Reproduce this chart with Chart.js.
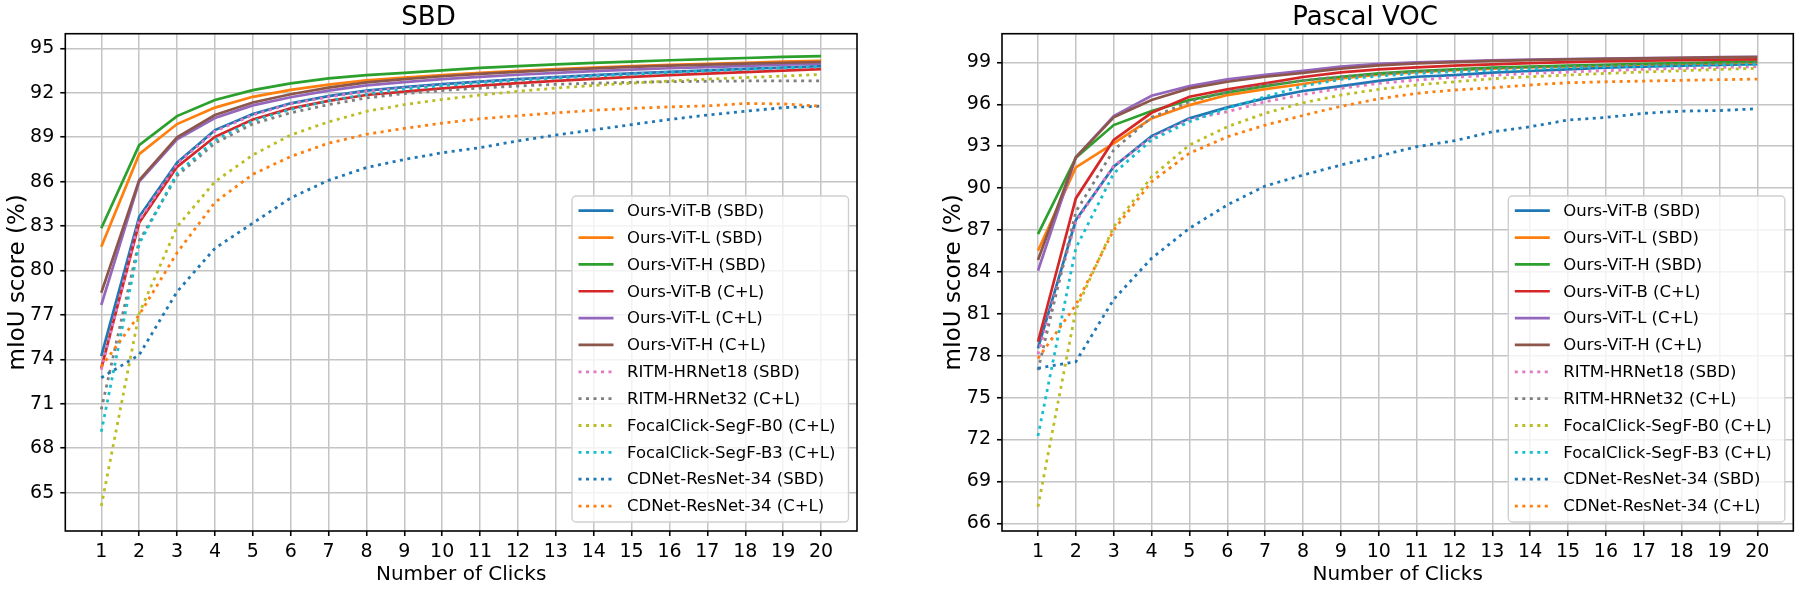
<!DOCTYPE html>
<html>
<head>
<meta charset="utf-8">
<script src="https://cdn.jsdelivr.net/npm/chart.js@4.4.1/dist/chart.umd.min.js"></script>
<style>
    html, body { margin: 0; padding: 0; background: #fff; }
    #wrap { position: relative; width: 1800px; height: 589px; }
    .pane { position: absolute; top: 0; width: 900px; height: 589px; }
</style>
</head>
<body>
<div id="wrap">
    <div class="pane" style="left:0"><canvas id="chart_sbd" width="900" height="589"></canvas></div>
    <div class="pane" style="left:900px"><canvas id="chart_voc" width="900" height="589"></canvas></div>
</div>
<script>
var clicks = [1, 2, 3, 4, 5, 6, 7, 8, 9, 10, 11, 12, 13, 14, 15, 16, 17, 18, 19, 20];

var labels = [
    'Ours-ViT-B (SBD)', 'Ours-ViT-L (SBD)', 'Ours-ViT-H (SBD)',
    'Ours-ViT-B (C+L)', 'Ours-ViT-L (C+L)', 'Ours-ViT-H (C+L)',
    'RITM-HRNet18 (SBD)', 'RITM-HRNet32 (C+L)',
    'FocalClick-SegF-B0 (C+L)', 'FocalClick-SegF-B3 (C+L)',
    'CDNet-ResNet-34 (SBD)', 'CDNet-ResNet-34 (C+L)'
];
var colors = ['#1f77b4', '#ff7f0e', '#2ca02c', '#d62728', '#9467bd', '#8c564b',
              '#e377c2', '#7f7f7f', '#bcbd22', '#17becf', '#1f77b4', '#ff7f0e'];
var dotted = [false, false, false, false, false, false, true, true, true, true, true, true];

// SBD
var sbd_vit_b    = [74.22, 83.63, 87.28, 89.48, 90.56, 91.29, 91.78, 92.15, 92.38, 92.58, 92.76, 92.92, 93.06, 93.19, 93.31, 93.42, 93.52, 93.62, 93.71, 93.80];
var sbd_vit_l    = [81.60, 87.86, 89.89, 91.00, 91.73, 92.20, 92.55, 92.85, 93.03, 93.20, 93.35, 93.48, 93.60, 93.70, 93.80, 93.88, 93.96, 94.03, 94.10, 94.16];
var sbd_vit_h    = [82.85, 88.47, 90.43, 91.51, 92.18, 92.64, 92.98, 93.20, 93.35, 93.52, 93.68, 93.80, 93.92, 94.02, 94.11, 94.20, 94.28, 94.35, 94.42, 94.48];
var sbd_cl_vit_b = [73.39, 83.22, 87.00, 89.03, 90.20, 90.95, 91.46, 91.85, 92.08, 92.30, 92.48, 92.65, 92.80, 92.94, 93.07, 93.20, 93.30, 93.40, 93.50, 93.60];
var sbd_cl_vit_l = [77.67, 86.00, 88.86, 90.30, 91.15, 91.70, 92.15, 92.50, 92.72, 92.92, 93.08, 93.22, 93.35, 93.46, 93.56, 93.66, 93.74, 93.82, 93.90, 93.97];
var sbd_cl_vit_h = [78.50, 86.10, 88.99, 90.50, 91.35, 91.90, 92.35, 92.70, 92.92, 93.12, 93.28, 93.42, 93.54, 93.65, 93.75, 93.83, 93.90, 93.97, 94.03, 94.08];
var sbd_ritm18   = [73.30, 83.40, 87.20, 89.40, 90.50, 91.25, 91.72, 92.10, 92.33, 92.53, 92.72, 92.88, 93.02, 93.15, 93.27, 93.38, 93.48, 93.58, 93.67, 93.76];
var sbd_ritm32   = [70.62, 82.00, 86.40, 88.60, 89.90, 90.65, 91.20, 91.65, 91.95, 92.15, 92.32, 92.46, 92.57, 92.65, 92.71, 92.75, 92.78, 92.80, 92.80, 92.81];
var sbd_fc_b0    = [64.10, 77.10, 82.95, 86.00, 87.80, 89.15, 90.04, 90.75, 91.20, 91.55, 91.85, 92.10, 92.32, 92.50, 92.65, 92.80, 92.92, 93.03, 93.13, 93.24];
var sbd_fc_b3    = [69.11, 81.80, 86.56, 88.80, 90.11, 90.88, 91.45, 91.90, 92.25, 92.48, 92.68, 92.84, 92.99, 93.12, 93.25, 93.37, 93.48, 93.58, 93.68, 93.77];
var sbd_cdnet    = [72.76, 74.30, 78.57, 81.50, 83.20, 84.90, 86.09, 86.95, 87.50, 87.95, 88.30, 88.75, 89.15, 89.50, 89.85, 90.20, 90.50, 90.75, 91.00, 91.10];
var sbd_cl_cdnet = [73.50, 77.00, 81.20, 84.60, 86.50, 87.70, 88.60, 89.20, 89.60, 89.95, 90.25, 90.45, 90.65, 90.82, 90.95, 91.05, 91.12, 91.28, 91.25, 91.10];

// Pascal VOC
var voc_vit_b    = [78.53, 87.71, 91.53, 93.72, 94.99, 95.78, 96.42, 96.95, 97.30, 97.68, 97.97, 98.09, 98.26, 98.38, 98.50, 98.62, 98.69, 98.76, 98.81, 98.88];
var voc_vit_l    = [85.51, 91.48, 93.20, 94.99, 95.94, 96.66, 97.08, 97.45, 97.85, 98.12, 98.30, 98.44, 98.55, 98.64, 98.71, 98.78, 98.85, 98.90, 98.95, 98.99];
var voc_vit_h    = [86.71, 92.17, 94.51, 95.51, 96.30, 96.85, 97.30, 97.70, 97.97, 98.21, 98.38, 98.50, 98.62, 98.69, 98.76, 98.83, 98.90, 98.95, 99.00, 99.05];
var voc_cl_vit_b = [79.00, 89.26, 93.44, 95.39, 96.54, 97.07, 97.50, 97.95, 98.28, 98.50, 98.64, 98.76, 98.86, 98.95, 99.02, 99.09, 99.12, 99.16, 99.19, 99.21];
var voc_cl_vit_l = [84.08, 92.20, 95.16, 96.61, 97.30, 97.78, 98.10, 98.40, 98.69, 98.90, 99.00, 99.07, 99.14, 99.19, 99.24, 99.26, 99.30, 99.33, 99.37, 99.40];
var voc_cl_vit_h = [84.85, 92.20, 95.06, 96.30, 97.14, 97.61, 97.97, 98.25, 98.55, 98.78, 98.92, 99.02, 99.10, 99.16, 99.21, 99.25, 99.29, 99.32, 99.35, 99.38];
var voc_ritm18   = [78.10, 87.60, 91.60, 93.60, 94.90, 95.46, 96.18, 96.70, 97.14, 97.50, 97.73, 97.93, 98.07, 98.21, 98.31, 98.40, 98.50, 98.57, 98.64, 98.69];
var voc_ritm32   = [76.97, 88.30, 92.72, 95.06, 96.18, 96.90, 97.38, 97.70, 97.97, 98.17, 98.33, 98.45, 98.55, 98.62, 98.69, 98.76, 98.81, 98.86, 98.90, 98.95];
var voc_fc_b0    = [67.19, 81.27, 87.23, 90.81, 93.08, 94.39, 95.35, 96.10, 96.66, 97.07, 97.38, 97.61, 97.83, 97.97, 98.09, 98.21, 98.31, 98.40, 98.50, 98.57];
var voc_fc_b3    = [72.25, 85.70, 91.05, 93.44, 94.75, 95.71, 96.54, 97.30, 97.78, 98.02, 98.21, 98.33, 98.43, 98.52, 98.60, 98.67, 98.71, 98.76, 98.81, 98.86];
var voc_cdnet    = [77.10, 77.57, 82.03, 84.97, 87.12, 88.79, 90.15, 90.93, 91.65, 92.29, 92.96, 93.39, 94.03, 94.39, 94.87, 95.06, 95.35, 95.51, 95.55, 95.68];
var voc_cl_cdnet = [77.80, 81.63, 87.00, 90.45, 92.49, 93.67, 94.51, 95.20, 95.85, 96.39, 96.78, 97.02, 97.18, 97.38, 97.54, 97.61, 97.66, 97.71, 97.76, 97.80];

var sbd_y_ticks = [65, 68, 71, 74, 77, 80, 83, 86, 89, 92, 95];
var voc_y_ticks = [66, 69, 72, 75, 78, 81, 84, 87, 90, 93, 96, 99];

var FONT = '"DejaVu Sans", sans-serif';
Chart.defaults.font.family = FONT;
Chart.defaults.color = '#000';

// frame on all four sides + matplotlib style legend in the lower right
var frame_legend = {
    id: 'frame_legend',
    afterDatasetsDraw: function (chart) {
        var ctx = chart.ctx, a = chart.chartArea;
        ctx.save();
        ctx.strokeStyle = '#000';
        ctx.lineWidth = 1.6;
        ctx.strokeRect(a.left, a.top, a.right - a.left, a.bottom - a.top);

        var w = 276.5, h = 326;
        var right = a.right - 8.5, bottom = a.bottom - 9;
        var left = right - w, top = bottom - h, r = 4;
        ctx.beginPath();
        ctx.moveTo(left + r, top);
        ctx.arcTo(right, top, right, bottom, r);
        ctx.arcTo(right, bottom, left, bottom, r);
        ctx.arcTo(left, bottom, left, top, r);
        ctx.arcTo(left, top, right, top, r);
        ctx.closePath();
        ctx.fillStyle = 'rgba(255,255,255,0.8)';
        ctx.fill();
        ctx.strokeStyle = '#d0d0d0';
        ctx.lineWidth = 1.4;
        ctx.stroke();

        ctx.font = '16.5px ' + FONT;
        ctx.textBaseline = 'middle';
        chart.data.datasets.forEach(function (ds, i) {
            var y = top + 14.7 + i * 26.85;
            ctx.beginPath();
            ctx.setLineDash(ds.borderDash);
            ctx.lineCap = 'butt';
            ctx.strokeStyle = ds.borderColor;
            ctx.lineWidth = ds.borderWidth;
            ctx.moveTo(left + 6.5, y);
            ctx.lineTo(left + 41.5, y);
            ctx.stroke();
            ctx.setLineDash([]);
            ctx.fillStyle = '#000';
            ctx.fillText(ds.label, left + 55, y + 1);
        });
        ctx.restore();
    }
};

var make_chart = function (id, title, series, y_min, y_max, y_ticks, pad_left, pad_right) {
    var datasets = series.map(function (values, i) {
        return {
            label: labels[i],
            data: clicks.map(function (c, j) { return { x: c, y: values[j] }; }),
            borderColor: colors[i],
            borderWidth: dotted[i] ? 2.8 : 2.7,
            borderDash: dotted[i] ? [3, 4.5] : [],
            borderCapStyle: 'butt',
            pointRadius: 0,
            tension: 0,
            fill: false,
            order: -i
        };
    });

    var grid = { color: '#c4c4c4', lineWidth: 1.5, tickColor: '#000', tickWidth: 1.6, tickLength: 5 };

    return new Chart(document.getElementById(id), {
        type: 'line',
        data: { datasets: datasets },
        options: {
            responsive: false,
            animation: false,
            devicePixelRatio: 1,
            layout: { padding: { left: pad_left, right: pad_right, top: 0, bottom: 0 } },
            plugins: {
                legend: { display: false },
                tooltip: { enabled: false },
                title: {
                    display: true, text: title, color: '#000',
                    font: { size: 26, weight: 'normal', lineHeight: 1.22 },
                    padding: { top: 2, bottom: 0 }
                }
            },
            scales: {
                x: {
                    type: 'linear', min: 0.05, max: 20.95,
                    afterBuildTicks: function (scale) {
                        scale.ticks = clicks.map(function (v) { return { value: v }; });
                    },
                    afterFit: function (scale) { scale.height = 58; },
                    grid: grid,
                    border: { display: false },
                    ticks: { color: '#000', font: { size: 19 }, padding: 4.5, maxRotation: 0, autoSkip: false },
                    title: { display: true, text: 'Number of Clicks', color: '#000', font: { size: 20 }, padding: { top: 0, bottom: 2 } }
                },
                y: {
                    type: 'linear', min: y_min, max: y_max,
                    afterBuildTicks: function (scale) {
                        scale.ticks = y_ticks.map(function (v) { return { value: v }; });
                    },
                    afterFit: function (scale) { scale.width = 65.3; },
                    grid: grid,
                    border: { display: false },
                    ticks: { color: '#000', font: { size: 19 }, padding: 6, autoSkip: false },
                    title: { display: true, text: 'mIoU score (%)', color: '#000', font: { size: 23 }, padding: { top: 4, bottom: 0 } }
                }
            }
        },
        plugins: [frame_legend]
    });
};

var sbd_chart = make_chart('chart_sbd', 'SBD',
    [sbd_vit_b, sbd_vit_l, sbd_vit_h, sbd_cl_vit_b, sbd_cl_vit_l, sbd_cl_vit_h,
     sbd_ritm18, sbd_ritm32, sbd_fc_b0, sbd_fc_b3, sbd_cdnet, sbd_cl_cdnet],
    62.41, 95.99, sbd_y_ticks, 0, 43);

var voc_chart = make_chart('chart_voc', 'Pascal VOC',
    [voc_vit_b, voc_vit_l, voc_vit_h, voc_cl_vit_b, voc_cl_vit_l, voc_cl_vit_h,
     voc_ritm18, voc_ritm32, voc_fc_b0, voc_fc_b3, voc_cdnet, voc_cl_cdnet],
    65.45, 101.05, voc_y_ticks, 36.7, 6.7);
</script>
</body>
</html>
